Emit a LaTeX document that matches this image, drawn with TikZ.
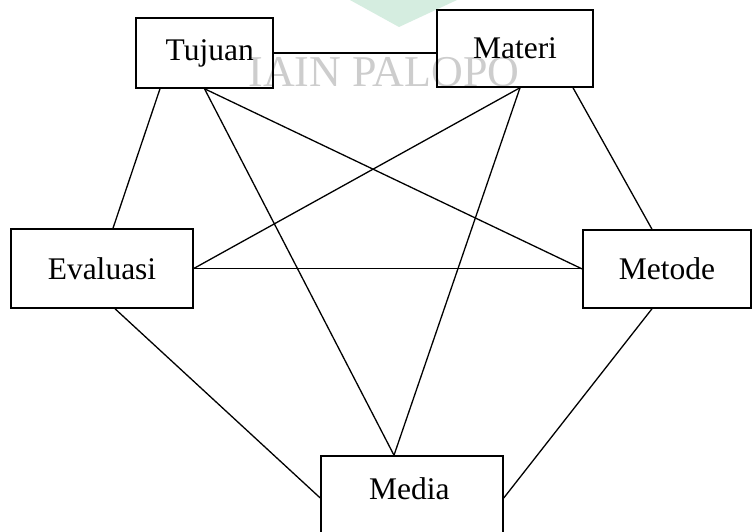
\documentclass[tikz,border=0pt]{standalone}
\usepackage{fontspec}
\setmainfont{Liberation Serif}
\definecolor{logogreen}{RGB}{213,237,224}
\definecolor{markgray}{RGB}{205,205,205}

\begin{document}
\begin{tikzpicture}[x=1pt, y=1pt,
        box/.style={draw, line width=1.5pt, inner sep=0pt, font=\fontsize{31.5}{36}\selectfont},
        link/.style={line width=1.3pt}]
        \clip (0,0) rectangle (753,531);
        \fill [white](0,0) rectangle (753,531);

        % watermark
        \fill [logogreen](350,531) -- (457,531) -- (399,504) -- cycle;
        \node[anchor=base, text=markgray, font=\fontsize{44}{50}\selectfont] (mark) at (384,444) {IAIN PALOPO};

        % boxes
        \node[box, minimum width=137, minimum height=70] (Tujuan) at (204.5,478) {\,\,Tujuan};
        \node[box, minimum width=156, minimum height=77] (Materi) at (515,482.5) {Materi};
        \node[box, minimum width=182, minimum height=79] (Evaluasi) at (102,262.5) {Evaluasi};
        \node[box, minimum width=168, minimum height=78] (Metode) at (667,262) {Metode};
        \node[box, anchor=base, minimum width=182, text height=43pt, text depth=41pt] (Media) at (412,32) {Media\,};

        % links
        \draw [link](Tujuan.east) -- (Tujuan.east -| Materi.west);
        \draw [link]([xshift=-44.5pt]Tujuan.south) -- ([xshift=11pt]Evaluasi.north);
        \draw [link](Tujuan.south) -- ([xshift=-18pt]Media.north);
        \draw [link](Tujuan.south) -- (Metode.west);
        \draw [link]([xshift=5pt]Materi.south) -- (Evaluasi.east);
        \draw [link]([xshift=5pt]Materi.south) -- ([xshift=-18pt]Media.north);
        \draw [link]([xshift=58pt]Materi.south) -- ([xshift=-15pt]Metode.north);
        \draw [link](Evaluasi.east) -- (Evaluasi.east -| Metode.west);
        \draw [link]([xshift=13pt]Evaluasi.south) -- (Media.west);
        \draw [link]([xshift=-15pt]Metode.south) -- (Media.east);
\end{tikzpicture}
\end{document}
